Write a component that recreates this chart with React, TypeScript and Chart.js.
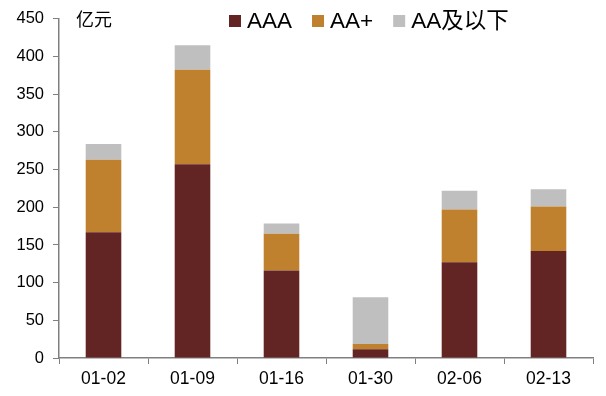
import React, { useEffect, useRef } from "react";
import { Chart, registerables } from "chart.js";

Chart.register(...registerables);

const categories = ["01-02", "01-09", "01-16", "01-30", "02-06", "02-13"];
const aaa = [167, 257, 116, 11.5, 127, 142];
const aaPlus = [96, 125.5, 49, 7, 70, 59];
const aaBelow = [21, 32.5, 13.5, 62, 25, 23];
const seriesNames = ["AAA", "AA+", "AA及以下"];
const seriesColors = ["#632523", "#C0812F", "#BFBFBF"];
const yTicks = [0, 50, 100, 150, 200, 250, 300, 350, 400, 450];
const unitLabel = "亿元";

const FONT = "'Liberation Sans', Arial, 'Noto Sans CJK SC', sans-serif";

const overlayPlugin = {
  id: "overlay",
  afterDraw(chart: any) {
    const ctx = chart.ctx;
    ctx.save();
    ctx.textBaseline = "middle";
    ctx.textAlign = "left";
    ctx.fillStyle = "#000";
    ctx.font = `18px 'Noto Sans CJK SC', sans-serif`;
    ctx.fillText(unitLabel, 76, 19);
    let x = 229;
    const y = 21;
    ctx.font = `22.5px ${FONT}`;
    chart.data.datasets.forEach((ds: any) => {
      ctx.fillStyle = ds.backgroundColor;
      ctx.fillRect(x, y - 6, 12, 12);
      x += 12 + 6;
      ctx.fillStyle = "#000";
      ctx.fillText(ds.label, x, y + 1);
      x += ctx.measureText(ds.label).width + 20;
    });
    ctx.restore();
  },
};

export default function App() {
  const ref = useRef<HTMLCanvasElement>(null);
  useEffect(() => {
    if (!ref.current) return;
    const chart = new Chart(ref.current, {
      type: "bar",
      data: {
        labels: categories,
        datasets: [aaa, aaPlus, aaBelow].map((d, i) => ({
          label: seriesNames[i],
          data: d,
          backgroundColor: seriesColors[i],
          borderWidth: 0,
          barPercentage: 0.4,
          categoryPercentage: 1,
        })),
      },
      options: {
        animation: false,
        responsive: false,
        maintainAspectRatio: false,
        layout: { padding: { top: 18, right: 13, left: 0, bottom: 0 } },
        plugins: { legend: { display: false }, tooltip: { enabled: false } },
        scales: {
          x: {
            stacked: true,
            grid: {
              display: true,
              drawOnChartArea: false,
              drawTicks: true,
              tickLength: 6,
              color: "#808080",
              offset: true,
            },
            border: { color: "#808080", width: 1.5 },
            ticks: {
              color: "#000",
              font: { family: FONT, size: 17.5 },
              padding: 5,
              maxRotation: 0,
            },
            afterFit: (s: any) => {
              s.height = 38;
            },
          },
          y: {
            stacked: true,
            min: 0,
            max: 450,
            afterBuildTicks: (s: any) => {
              s.ticks = yTicks.map((v) => ({ value: v }));
            },
            grid: {
              display: true,
              drawOnChartArea: false,
              drawTicks: true,
              tickLength: 6,
              color: "#808080",
            },
            border: { color: "#808080", width: 1.5 },
            ticks: {
              color: "#000",
              font: { family: FONT, size: 16.5 },
              padding: 9,
            },
            afterFit: (s: any) => {
              s.width = 59;
            },
          },
        },
      },
      plugins: [overlayPlugin],
    });
    return () => chart.destroy();
  }, []);
  return (
    <div style={{ position: "absolute", left: 0, top: 0, width: 606, height: 396, background: "#fff" }}>
      <canvas ref={ref} width={606} height={396} style={{ display: "block" }} />
    </div>
  );
}
